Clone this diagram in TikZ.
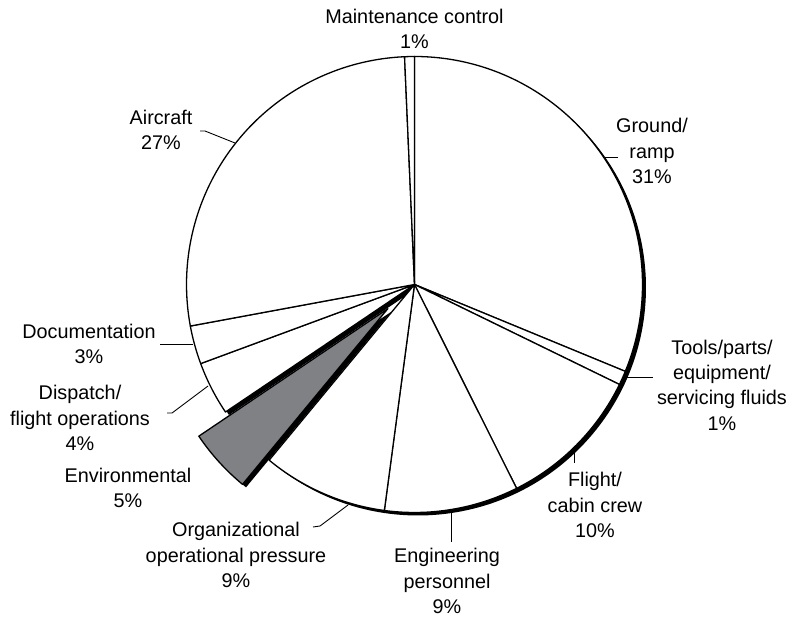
\documentclass[tikz,border=0pt]{standalone}
\usepackage{fontspec}
\setmainfont{Liberation Sans}
\definecolor{envgray}{RGB}{128,129,133}
\begin{document}
\begin{tikzpicture}[x=1pt,y=1pt,
  lbl/.style={align=center,inner sep=0pt,font=\fontsize{19.8}{25.3}\selectfont},
  leader/.style={line width=0.9pt,line join=round},
  slice/.style={fill=white,draw=black,line width=1.3pt,line join=round},
  pieshadow/.style={fill=black}]
\useasboundingbox (0,-617) rectangle (790,0);
\coordinate (c) at (414.5,-284.5);
\begin{scope}[shift={(c)}]
  % shadows
  \fill[pieshadow,shift={(3.5,-3)}] (0,0) -- (-129.6:228) arc[start angle=-129.6,end angle=214,radius=228] -- cycle;
  \begin{scope}[shift={(-137.8:36)}]
    \fill[pieshadow,shift={(3.5,-3)}] (0,0) -- (-146:228) arc[start angle=-146,end angle=-129.6,radius=228] -- cycle;
  \end{scope}
  % slices
  \foreach \a/\b in {-22.4/90, -26/-22.4, -63.4/-26, -97.6/-63.4, -129.6/-97.6, -159.7/-146, -169.5/-159.7, -267.5/-169.5, -270/-267.5}
    \draw[slice] (0,0) -- (\a:228) arc[start angle=\a,end angle=\b,radius=228] -- cycle;
  % exploded environmental slice
  \begin{scope}[shift={(-137.8:36)}]
    \draw[slice,fill=envgray] (0,0) -- (-146:228) arc[start angle=-146,end angle=-129.6,radius=228] -- cycle;
  \end{scope}
\end{scope}

% labels
\node[lbl] (maint) at (414.5,-29) {Maintenance control\\1\%};
\node[lbl] (aircraft) at (161,-130) {Aircraft\\27\%};
\node[lbl] (ground) at (652,-151) {Ground/\\ramp\\31\%};
\node[lbl] (tools) at (722,-385) {Tools/parts/\\equipment/\\servicing fluids\\1\%};
\node[lbl] (flight) at (595,-505) {Flight/\\cabin crew\\10\%};
\node[lbl] (eng) at (447,-581) {Engineering\\personnel\\9\%};
\node[lbl] (org) at (236,-555) {Organizational\\operational pressure\\9\%};
\node[lbl] (env) at (128,-488) {Environmental\\5\%};
\node[lbl] (disp) at (80,-418) {Dispatch/\\flight operations\\4\%};
\node[lbl] (doc) at (89,-344) {Documentation\\3\%};

% leader lines
\coordinate (aircraftA) at (235,-143); \coordinate (aircraftB) at (205,-131); \coordinate (aircraftC) at (200,-131);
\draw[leader] (aircraftA) -- (aircraftB) -- (aircraftC);
\coordinate (groundA) at (605,-157); \coordinate (groundB) at (618,-157);
\draw[leader] (groundA) -- (groundB);
\coordinate (toolsA) at (625,-377); \coordinate (toolsB) at (653,-377);
\draw[leader] (toolsA) -- (toolsB);
\coordinate (flightA) at (574,-450); \coordinate (flightB) at (574,-463);
\draw[leader] (flightA) -- (flightB);
\coordinate (engA) at (451,-512); \coordinate (engB) at (451,-542);
\draw[leader] (engA) -- (engB);
\coordinate (orgA) at (348,-505); \coordinate (orgB) at (320,-526); \coordinate (orgC) at (313,-527);
\draw[leader] (orgA) -- (orgB) -- (orgC);
\coordinate (dispA) at (208,-386); \coordinate (dispB) at (172,-413); \coordinate (dispC) at (167,-413);
\draw[leader] (dispA) -- (dispB) -- (dispC);
\coordinate (docA) at (193,-344); \coordinate (docB) at (160,-344);
\draw[leader] (docA) -- (docB);
\end{tikzpicture}
\end{document}
